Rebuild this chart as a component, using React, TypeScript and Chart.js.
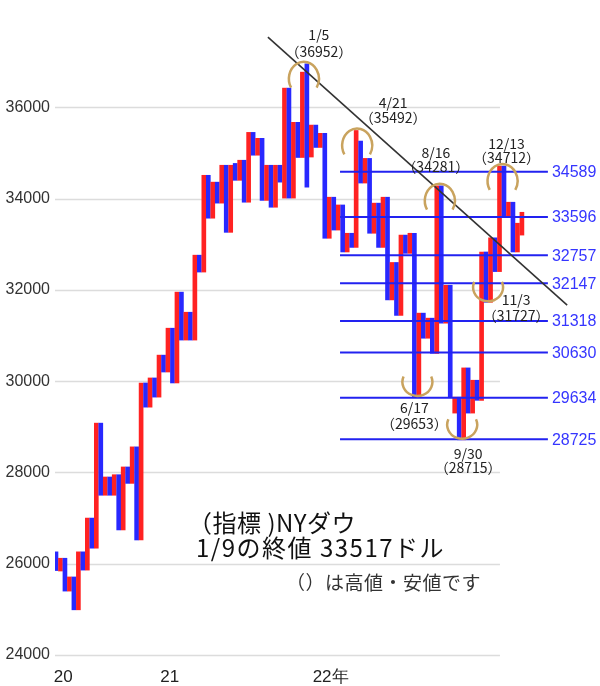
import React, { useEffect, useRef } from 'react';
import { Chart, registerables } from 'chart.js';

Chart.register(...registerables);

// ---- data ----
const barHigh = [
  26260, 26120, 26120, 25710, 25710, 26260, 26260, 27000, 27000, 29080,
  29080, 27900, 27900, 27950, 27950, 28120, 28120, 28560, 28560, 29960,
  29960, 30070, 30070, 30570, 30570, 31160, 31160, 31950, 31950, 31510,
  31510, 32760, 32760, 34510, 34510, 34360, 34360, 34730, 34730, 34730,
  34770, 34840, 34840, 35450, 35450, 35320, 35320, 34730, 34730, 34730,
  34730, 36420, 36420, 35670, 35670, 36770, 36952, 35610, 35610, 35430,
  35430, 34030, 34030, 33860, 33860, 33240, 33240, 35492, 35260, 34880,
  34880, 33900, 33900, 34030, 34030, 32600, 32600, 33200, 33200, 33240,
  33240, 31490, 31490, 31380, 31380, 34281, 34281, 32100, 32100, 29650,
  29650, 30290, 30290, 30020, 30020, 32830, 32830, 33140, 33140, 34712,
  34712, 33920, 33920, 33460, 33700,
];
const barLow = [
  25850, 25840, 25400, 25400, 24990, 24990, 25860, 25860, 26340, 26340,
  27500, 27500, 27500, 27500, 26740, 26740, 27760, 27760, 26520, 26520,
  29430, 29430, 29650, 29650, 30200, 30200, 29960, 29960, 30900, 30900,
  30900, 30900, 32390, 32390, 33570, 33570, 33900, 33900, 33260, 33260,
  34400, 34400, 33920, 33920, 34950, 34950, 33960, 33960, 33810, 33810,
  34360, 34010, 34010, 34010, 34900, 34900, 34250, 34910, 35120, 35120,
  33130, 33130, 33310, 33310, 32830, 32830, 32930, 32930, 34340, 34340,
  33240, 33240, 32930, 32930, 31780, 31780, 31440, 31440, 32800, 32800,
  29653, 29653, 30940, 30940, 30610, 30610, 31270, 31270, 29650, 29300,
  28715, 28715, 29300, 29300, 29580, 29580, 31727, 31727, 32400, 32400,
  33600, 33600, 32830, 32830, 33200,
];
const barSide = 'BRBRBRBRBRBRBRBRBRBRBRBRBRBRBRBRBRBRBRBRBRBRBRBRBRBRBRBRBRBRBRBRBRBRBRBRBRBRBRBRBRBRBRBRBRBRBRBRBRBRBRBRR';

const yTickValues = [24000, 26000, 28000, 30000, 32000, 34000, 36000];
const xTickPos = [1.6, 25.4, 61.3];
const xTickLabels = ['20', '21', '22年'];

const levels = [34589, 33596, 32757, 32147, 31318, 30630, 29634, 28725];
const levelFrom = 63.4;
const levelTo = 109.8;

const trendX = [47.3, 114.1];
const trendY = [37538, 31667];

const highDates = ['1/5', '4/21', '8/16', '12/13'];
const highValues = [36952, 35492, 34281, 34712];
const highIndex = [56, 67, 85, 99];

const lowDates = ['6/17', '9/30', '11/3'];
const lowValues = [29653, 28715, 31727];
const lowIndex = [80, 90, 96];

// ---- layout / style (not data) ----
const RED = '#ff2222';
const BLUE = '#2828ff';
const GOLD = '#c9a35e';
const highLabelOff = [[12, -29, -12], [37, -28, -13], [-1, -33, -19], [7, -22, -8]];
const lowLabelOff = [[0, 11, 27], [9, 14, 28], [30, -3, 13]];
const highArcDx = [-3, 1, 3, 3];
const lowArcDx = [3, 3, 2];
const gridToIndex = 99.1;

const JP = "'Noto Sans CJK JP', 'Noto Sans', sans-serif";
const LAT = "'Liberation Sans', Arial, sans-serif";

export default function App() {
  const ref = useRef<HTMLCanvasElement>(null);

  useEffect(() => {
    document.body.style.margin = '0';
    const canvas = ref.current;
    if (!canvas) return;

    const barData = barHigh.map((h, i) => ({ x: i, y: [barLow[i], h] }));
    const barColors = barSide.split('').map((c) => (c === 'R' ? RED : BLUE));

    const levelSets = levels.map((v) => ({
      type: 'line' as const,
      data: [
        { x: levelFrom, y: v },
        { x: levelTo, y: v },
      ],
      borderColor: '#2222f0',
      borderWidth: 2,
      pointRadius: 0,
      order: 1,
    }));

    const trendSet = {
      type: 'line' as const,
      data: [
        { x: trendX[0], y: trendY[0] },
        { x: trendX[1], y: trendY[1] },
      ],
      borderColor: '#333333',
      borderWidth: 1.6,
      pointRadius: 0,
      order: 0,
    };

    const setSpacing = (ctx: any, s: string) => {
      if ('letterSpacing' in ctx) ctx.letterSpacing = s;
    };

    const decor = {
      id: 'decor',
      beforeDatasetsDraw(chart: any) {
        const { ctx, chartArea, scales } = chart;
        ctx.save();
        ctx.strokeStyle = '#dcdcdc';
        ctx.lineWidth = 1.5;
        const xEnd = scales.x.getPixelForValue(gridToIndex);
        yTickValues.forEach((v) => {
          const y = Math.round(scales.y.getPixelForValue(v)) + 0.5;
          ctx.beginPath();
          ctx.moveTo(chartArea.left, y);
          ctx.lineTo(xEnd, y);
          ctx.stroke();
        });
        ctx.restore();
      },
      afterDatasetsDraw(chart: any) {
        const { ctx, scales } = chart;
        const px = (v: number) => scales.x.getPixelForValue(v);
        const py = (v: number) => scales.y.getPixelForValue(v);
        ctx.save();

        // level labels
        ctx.fillStyle = '#3535ff';
        ctx.font = `16px ${LAT}`;
        ctx.textAlign = 'left';
        ctx.textBaseline = 'middle';
        levels.forEach((v) => {
          ctx.fillText(String(v), px(levelTo) + 4, py(v) + 1);
        });

        // arcs
        ctx.strokeStyle = GOLD;
        ctx.lineWidth = 2.5;
        highValues.forEach((v, i) => {
          const cx = px(highIndex[i]) + highArcDx[i];
          const top = py(v) - 2;
          ctx.beginPath();
          ctx.ellipse(cx, top + 17, 15, 17, 0, Math.PI - 0.55, 2 * Math.PI + 0.55);
          ctx.stroke();
        });
        lowValues.forEach((v, i) => {
          const cx = px(lowIndex[i]) + lowArcDx[i];
          const bottom = py(v) - 1;
          ctx.beginPath();
          ctx.ellipse(cx, bottom - 14, 15, 14, 0, -0.4, Math.PI + 0.4);
          ctx.stroke();
        });

        // date / price labels
        ctx.fillStyle = '#222';
        ctx.font = `14px ${JP}`;
        ctx.textAlign = 'center';
        ctx.textBaseline = 'middle';
        highValues.forEach((v, i) => {
          const x = px(highIndex[i]);
          const y = py(v);
          const [dx, dyD, dyV] = highLabelOff[i];
          ctx.fillText(highDates[i], x + dx, y + dyD);
          ctx.fillText(`（${v}）`, x + dx, y + dyV);
        });
        lowValues.forEach((v, i) => {
          const x = px(lowIndex[i]);
          const y = py(v);
          const [dx, dyD, dyV] = lowLabelOff[i];
          ctx.fillText(lowDates[i], x + dx, y + dyD);
          ctx.fillText(`（${v}）`, x + dx, y + dyV);
        });

        // caption
        ctx.textAlign = 'left';
        ctx.fillStyle = '#111';
        ctx.font = `24px ${JP}`;
        setSpacing(ctx, '0.5px');
        ctx.fillText('（指標 )NYダウ', 188, 523);
        setSpacing(ctx, '1.5px');
        ctx.fillText('1/9の終値 33517ドル', 196, 548);
        setSpacing(ctx, '0.5px');
        ctx.fillStyle = '#333';
        ctx.font = `19px ${JP}`;
        ctx.fillText('（）は高値・安値です', 286, 583);
        setSpacing(ctx, '0px');

        ctx.restore();
      },
    };

    const chart = new Chart(canvas, {
      type: 'bar',
      data: {
        datasets: [
          trendSet as any,
          ...(levelSets as any[]),
          {
            type: 'bar',
            data: barData as any,
            backgroundColor: barColors,
            barThickness: 4,
            borderWidth: 0,
            order: 2,
          },
        ],
      },
      options: {
        animation: false,
        responsive: false,
        devicePixelRatio: 1,
        layout: { padding: { top: 16, left: 0, right: 0, bottom: 0 } },
        plugins: { legend: { display: false }, tooltip: { enabled: false } },
        scales: {
          x: {
            type: 'linear',
            min: -0.22,
            max: 121.43,
            offset: false,
            grid: { display: false, drawTicks: false },
            border: { display: false },
            afterBuildTicks: (s: any) => {
              s.ticks = xTickPos.map((v) => ({ value: v }));
            },
            afterFit: (s: any) => {
              s.height = 31;
            },
            ticks: {
              autoSkip: false,
              maxRotation: 0,
              padding: 12,
              color: '#222',
              font: { size: 17, family: LAT },
              callback: (_v: any, i: number) => xTickLabels[i],
            },
          },
          y: {
            min: 24000,
            max: 38000,
            grid: { display: false, drawTicks: false },
            border: { display: false },
            afterBuildTicks: (s: any) => {
              s.ticks = yTickValues.map((v) => ({ value: v }));
            },
            afterFit: (s: any) => {
              s.width = 55;
            },
            ticks: {
              padding: 5,
              color: '#333',
              font: { size: 16, family: LAT },
              callback: (v: any) => String(v),
            },
          },
        },
      },
      plugins: [decor],
    });

    return () => chart.destroy();
  }, []);

  return (
    <div style={{ width: 600, height: 686 }}>
      <canvas ref={ref} width={600} height={686} />
    </div>
  );
}
